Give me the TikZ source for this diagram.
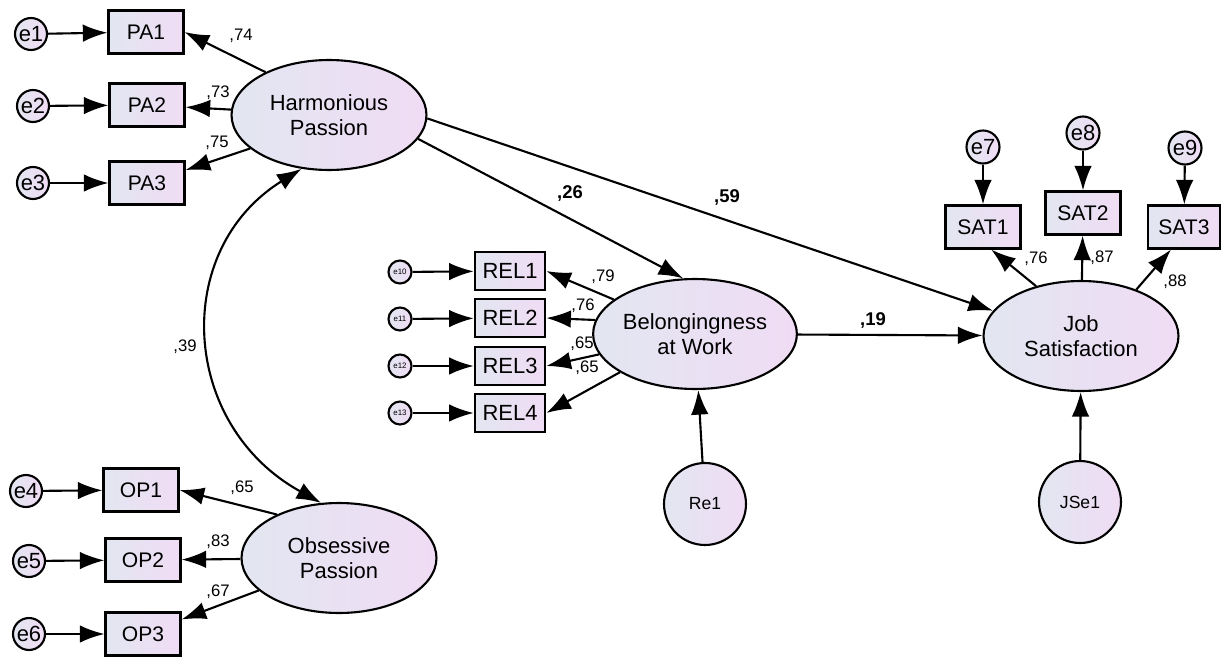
\documentclass[tikz,border=0pt]{standalone}
\usepackage{fontspec}
\setmainfont{Liberation Sans}
\usetikzlibrary{arrows.meta,shapes.geometric}
\definecolor{shadeL}{RGB}{226,230,241}
\definecolor{shadeR}{RGB}{240,220,244}
\begin{document}
\begin{tikzpicture}[x=0.02cm,y=-0.02cm,>={Latex[length=14pt,width=10pt]},line width=1.2pt]
\tikzset{
  item/.style={draw,rectangle,left color=shadeL,right color=shadeR,minimum width=1.5cm,minimum height=0.86cm,inner sep=0pt,font=\fontsize{12}{14}\selectfont},
  relitem/.style={item,minimum width=1.4cm,minimum height=0.76cm,line width=1.5pt,font=\fontsize{12.5}{14}\selectfont},
  latent/.style={draw,ellipse,left color=shadeL,right color=shadeR,minimum width=3.9cm,minimum height=2.2cm,inner sep=0pt,align=center,font=\fontsize{12.5}{14}\selectfont},
  err/.style={draw,circle,left color=shadeL,right color=shadeR,minimum size=0.64cm,inner sep=0pt,font=\fontsize{12.5}{14}\selectfont},
  smallerr/.style={err,minimum size=0.46cm,font=\fontsize{4.5}{5}\selectfont},
  resid/.style={err,minimum size=1.64cm,font=\fontsize{10}{12}\selectfont},
  coef/.style={inner sep=0pt,font=\fontsize{9.5}{11}\selectfont},
  pathcoef/.style={inner sep=0pt,font=\bfseries\fontsize{10.5}{12}\selectfont}
}
\useasboundingbox (0,0) rectangle (1221,659);

% latent variables
\node[latent] (hp) at (329,115) {Harmonious\\Passion};
\node[latent] (op) at (339,558) {Obsessive\\Passion};
\node[latent] (bw) at (695,334) {Belongingness\\at Work};
\node[latent] (js) at (1081,336) {Job\\Satisfaction};

% harmonious passion
\node[item] (pa1) at (146,32) {PA1};
\node[item] (pa2) at (147,105) {PA2};
\node[item] (pa3) at (147,183) {PA3};
\node[err] (e1) at (31,34) {e1};
\node[err] (e2) at (33,106) {e2};
\node[err] (e3) at (33,183) {e3};

% obsessive passion
\node[item] (op1) at (141,490) {OP1};
\node[item] (op2) at (143,560) {OP2};
\node[item] (op3) at (143,634) {OP3};
\node[err] (e4) at (26,491) {e4};
\node[err] (e5) at (29,561) {e5};
\node[err] (e6) at (29,634) {e6};

% belongingness
\node[relitem] (rel1) at (510,271) {REL1};
\node[relitem] (rel2) at (510,318) {REL2};
\node[relitem] (rel3) at (510,366) {REL3};
\node[relitem] (rel4) at (510,413) {REL4};
\node[smallerr] (e10) at (400,272) {e10};
\node[smallerr] (e11) at (400,319) {e11};
\node[smallerr] (e12) at (400,366) {e12};
\node[smallerr] (e13) at (400,413) {e13};
\node[resid] (re1) at (705,504) {Re1};

% job satisfaction
\node[item] (sat1) at (983,227) {SAT1};
\node[item] (sat2) at (1083,213) {SAT2};
\node[item,minimum width=1.44cm] (sat3) at (1184,227) {SAT3};
\node[err,minimum size=0.66cm] (e7) at (983,147) {e7};
\node[err,minimum size=0.66cm] (e8) at (1083,133) {e8};
\node[err,minimum size=0.66cm] (e9) at (1185,148) {e9};
\node[resid] (jse1) at (1080,502) {JSe1};

% errors
\foreach \e/\v in {e1/pa1,e2/pa2,e3/pa3,e4/op1,e5/op2,e6/op3,e10/rel1,e11/rel2,e12/rel3,e13/rel4,e7/sat1,e8/sat2,e9/sat3}
  \draw[->] (\e) -- (\v);
\draw[->] (re1) -- (bw);
\draw[->] (jse1) -- (js);

% loadings
\draw[->] (hp.146) -- (pa1.east);
\draw[->] (hp) -- (pa2);
\draw[->] (hp.203) -- (pa3);
\draw[->] (op.145) -- (op1.east);
\draw[->] (op) -- (op2);
\draw[->] (op.202) -- (op3);
\draw[->] (bw.157) -- (rel1.east);
\draw[->] (bw.172) -- (rel2.east);
\draw[->] (bw.192) -- (rel3.east);
\draw[->] (bw.207) -- (rel4.east);
\draw[->] (js.132) -- (sat1.290);
\draw[->] (js) -- (sat2);
\draw[->] (js.40) -- (sat3.240);

% structural paths
\draw[->] (hp.-15) -- (bw.102);
\draw[->] (hp.-2) -- (js.164);
\draw[->] (bw) -- (js);
\draw[<->] (hp.-117) .. controls (171,250) and (180,425) .. (op.108);

% coefficients
\node[coef] (k1) at (241,36) {,74};
\node[coef] (k2) at (218,93) {,73};
\node[coef] (k3) at (217,143) {,75};
\node[coef] (k4) at (242,488) {,65};
\node[coef] (k5) at (218,542) {,83};
\node[coef] (k6) at (218,592) {,67};
\node[coef] (k7) at (603,277) {,79};
\node[coef] (k8) at (583,306) {,76};
\node[coef] (k9) at (582,344) {,65};
\node[coef] (k10) at (587,368) {,65};
\node[coef] (k11) at (1036,259) {,76};
\node[coef] (k12) at (1102,258) {,87};
\node[coef] (k13) at (1175,282) {,88};
\node[coef] (k14) at (185,347) {,39};
\node[pathcoef] (b1) at (570,193) {,26};
\node[pathcoef] (b2) at (727,197) {,59};
\node[pathcoef] (b3) at (873,320) {,19};
\end{tikzpicture}
\end{document}
